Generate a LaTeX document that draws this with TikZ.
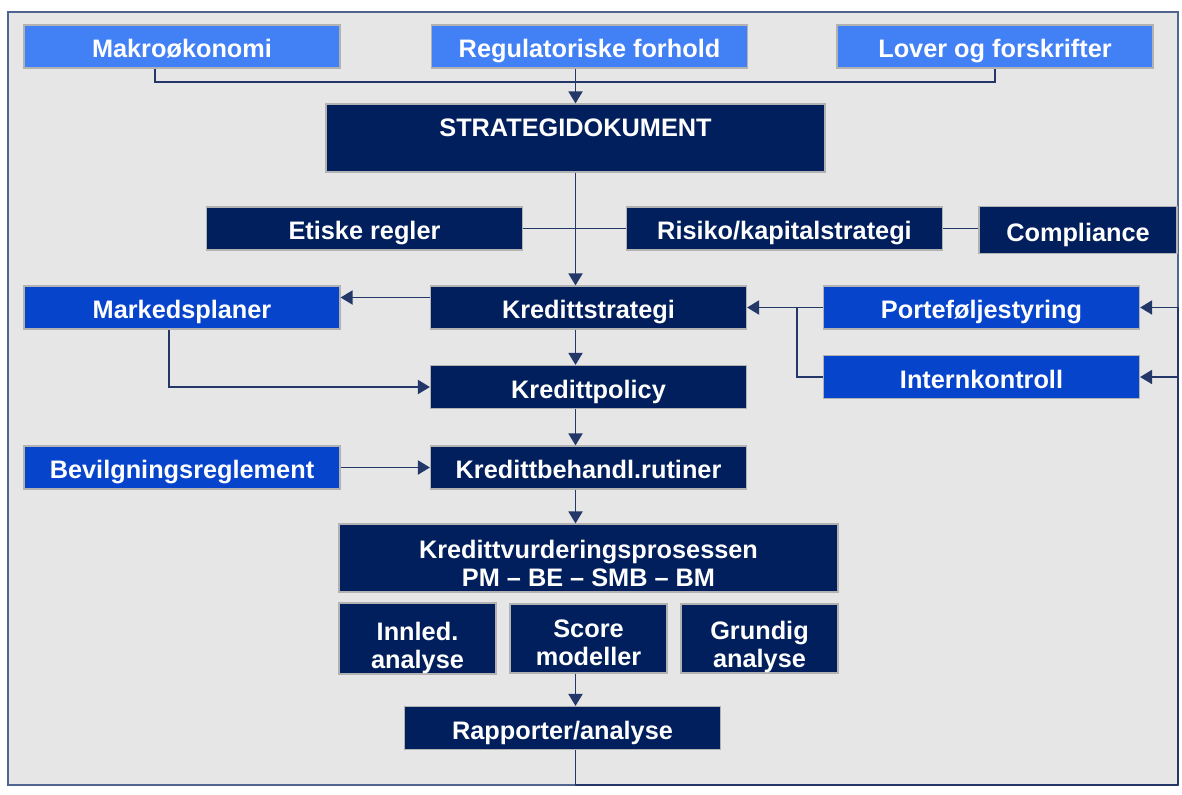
\documentclass[tikz,border=0pt]{standalone}
\usepackage{fontspec}
\setmainfont{Liberation Sans}
\usetikzlibrary{arrows.meta}

\definecolor{navy}{RGB}{0,31,92}
\definecolor{midblue}{RGB}{6,68,204}
\definecolor{lightblue}{RGB}{66,128,245}
\definecolor{panel}{RGB}{230,230,230}
\definecolor{framec}{RGB}{80,100,145}
\definecolor{linec}{RGB}{35,55,105}

\begin{document}
\begin{tikzpicture}[
    x=0.25mm, y=-0.25mm,
    every node/.style={font=\fontsize{18}{20}\selectfont\bfseries, text=white},
    box/.style={rectangle, draw=gray!60, line width=0.8pt, align=center, inner sep=0pt, minimum height=10.75mm, minimum width=79mm, text height=6.8mm, text depth=1.2mm},
    outer/.style={box, fill=lightblue},
    side/.style={box, fill=midblue},
    core/.style={box, fill=navy},
    wide/.style={minimum width=124.75mm, minimum height=17mm, text height=, text depth=},
    sub/.style={minimum width=39.25mm, minimum height=17.25mm, text height=, text depth=},
    link/.style={draw=linec, line width=1.3pt},
    arrow/.style={link, -{Triangle[width=3.5mm,length=3mm]}}
]

% Panel
\fill[white] (0,0) rectangle (1182,794);
\draw[framec, line width=1.5pt, fill=panel] (8,12) rectangle (1178,785);
\useasboundingbox (0,0) rectangle (1182,794);

% Outer conditions
\node[outer] (makro) at (182,46.5) {Makroøkonomi};
\node[outer] (regul) at (589.5,46.5) {Regulatoriske forhold};
\node[outer] (lover) at (995,46.5) {Lover og forskrifter};

% Strategy document
\node[core, wide, text depth=5mm] (strat) at (575.5,138) {STRATEGIDOKUMENT};

% Guidelines
\node[core] (etiske) at (364.5,228.5) {Etiske regler};
\node[core] (risiko) at (784.5,228.5) {Risiko/kapitalstrategi};
\node[core, minimum width=49.5mm, minimum height=11.75mm] (compl) at (1078,230) {Compliance};

% Credit strategy level
\node[side] (marked) at (182,307.5) {Markedsplaner};
\node[core] (kstrat) at (588.5,307.5) {Kredittstrategi};
\node[side] (portef) at (981.5,307.5) {Porteføljestyring};
\node[side] (intern) at (981.5,377) {Internkontroll};

\node[core] (kpolicy) at (588.5,387) {Kredittpolicy};
\node[side] (bevilg) at (182,467.5) {Bevilgningsreglement};
\node[core] (kbeh) at (588.5,467.5) {Kredittbehandl.rutiner};

% Credit assessment
\node[core, wide] (kvurd) at (588.5,558) {\rule{0pt}{7.1mm}Kredittvurderingsprosessen\\PM – BE – SMB – BM};
\node[core, sub] (innled) at (417.5,638.5) {\rule{0pt}{9.4mm}Innled.\\analyse};
\node[core, sub] (score) at (588.5,638.5) {\rule{0pt}{6.6mm}Score\\modeller};
\node[core, sub] (grundig) at (759.5,638.5) {\rule{0pt}{8.9mm}Grundig\\analyse};

\node[core] (rapp) at (562.5,728) {Rapporter/analyse};

% Inputs to strategy document
\coordinate (bus) at (575,82);
\draw[link] ([xshift=-6.75mm]makro.south) |- (bus) -| (lover.south);
\draw[arrow] (regul.south -| strat.north) -- (strat.north);

% Main spine
\draw[link] (etiske.east) -- (risiko.west);
\draw[link] (risiko.east) -- (risiko.east -| compl.west);
\draw[arrow] (strat.south) -- (strat.south |- kstrat.north);
\draw[arrow] (kstrat.south -| strat.south) -- (kpolicy.north -| strat.south);
\draw[arrow] (kpolicy.south -| strat.south) -- (kbeh.north -| strat.south);
\draw[arrow] (kbeh.south -| strat.south) -- (kvurd.north -| strat.south);
\draw[arrow] (score.south -| strat.south) -- (rapp.north -| strat.south);

% Side inputs
\draw[arrow] ([yshift=2.5mm]kstrat.west) -- ([yshift=2.5mm]marked.east);
\draw[arrow] ([xshift=-3.25mm]marked.south) |- (kpolicy.west);
\draw[arrow] (bevilg.east) -- (kbeh.west);
\draw[arrow] (portef.west) -- (kstrat.east);
\draw[link] (intern.west) -| ([xshift=-6.5mm]portef.west);

% Feedback loop
\coordinate (ret) at (1178,785);
\draw[link] (rapp.south -| strat.south) |- (ret);
\draw[arrow] (ret) |- (portef.east);
\draw[arrow] (ret) |- (intern.east);

\end{tikzpicture}
\end{document}
